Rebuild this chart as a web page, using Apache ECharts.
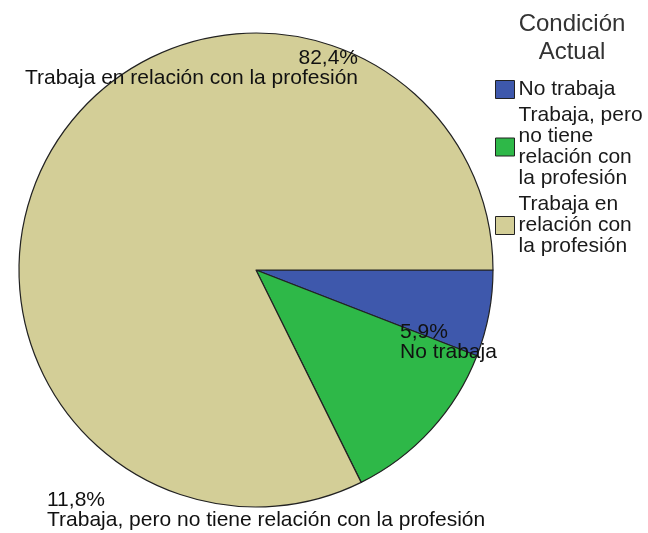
<!DOCTYPE html>
<html>
<head>
<meta charset="utf-8">
<script src="https://cdn.jsdelivr.net/npm/echarts@6/dist/echarts.min.js"></script>
<style>
  html, body { margin: 0; padding: 0; background: #fff; }
  #main { width: 648px; height: 533px; }
</style>
</head>
<body>
<div id="main"></div>
<script>
// categorias y porcentajes
var categorias = ["No trabaja", "Trabaja, pero no tiene relación con la profesión", "Trabaja en relación con la profesión"];
var porcentajes = [5.9, 11.8, 82.4];
var leyenda = ["No trabaja", "Trabaja, pero\nno tiene\nrelación con\nla profesión", "Trabaja en\nrelación con\nla profesión"];
var colores = ["#3E58AC", "#2EB848", "#D3CE97"];

// donde SPSS dejo cada etiqueta
var posEtiquetas = [
  { x: 400, y: 322, align: "left" },
  { x: 47, y: 490, align: "left" },
  { x: 358, y: 48, align: "right" }
];

var myChart = echarts.init(document.getElementById("main"));

var datos = categorias.map(function (c, i) {
  return { name: c, value: porcentajes[i], itemStyle: { color: colores[i] } };
});

var option = {
  animation: false,
  title: {
    text: "Condición\nActual",
    left: 572,
    top: 10,
    padding: 0,
    textAlign: "center",
    textStyle: {
      fontFamily: "Liberation Sans",
      fontSize: 24,
      lineHeight: 28,
      fontWeight: "normal",
      color: "#333"
    }
  },
  legend: {
    orient: "vertical",
    left: 495,
    top: 79,
    padding: 0,
    itemGap: 5,
    itemWidth: 19,
    itemHeight: 18,
    icon: "rect",
    selectedMode: false,
    itemStyle: { borderColor: "#222", borderWidth: 1 },
    data: categorias,
    formatter: function (name) {
      return leyenda[categorias.indexOf(name)];
    },
    textStyle: {
      fontFamily: "Liberation Sans",
      fontSize: 21,
      lineHeight: 21,
      color: "#1a1a1a",
      padding: [0, 0, 0, -1]
    }
  },
  series: [
    {
      type: "pie",
      center: [256, 270],
      radius: 237,
      startAngle: 0,
      clockwise: true,
      silent: true,
      data: datos,
      itemStyle: { borderColor: "#222", borderWidth: 1.2 },
      label: {
        show: true,
        position: "inside",
        fontFamily: "Liberation Sans",
        fontSize: 21,
        lineHeight: 20,
        color: "#111",
        formatter: function (p) {
          return p.value.toFixed(1).replace(".", ",") + "%\n" + p.name;
        }
      },
      labelLine: { show: false },
      labelLayout: function (params) {
        var p = posEtiquetas[params.dataIndex];
        return { x: p.x, y: p.y, align: p.align, verticalAlign: "top" };
      }
    }
  ]
};

myChart.setOption(option);
</script>
</body>
</html>
